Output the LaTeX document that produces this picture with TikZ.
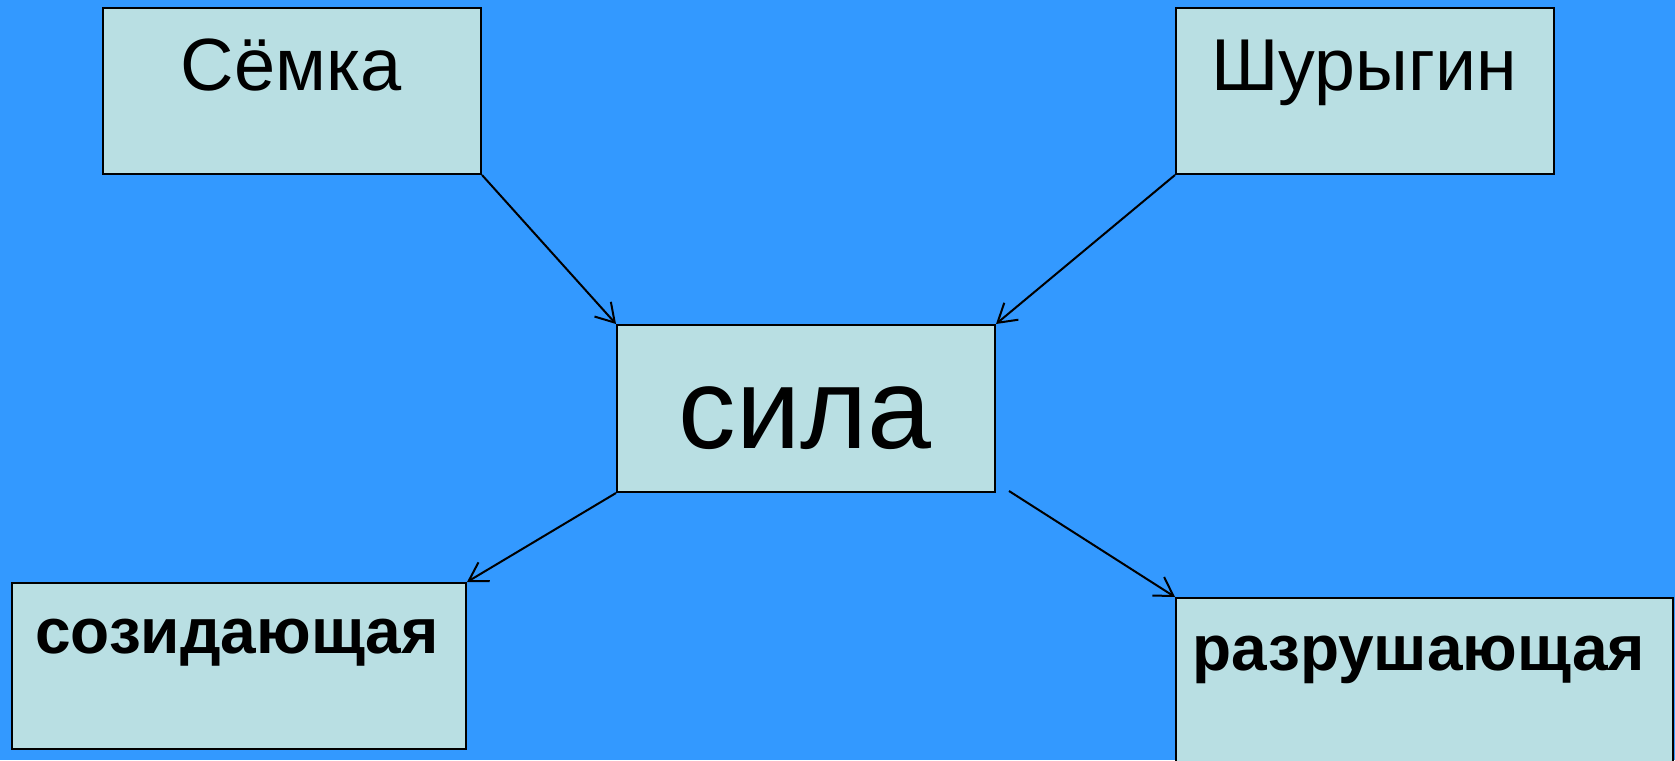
\documentclass[tikz,border=0pt]{standalone}
\usepackage{fontspec}
\setmainfont{Liberation Sans}
\usetikzlibrary{arrows.meta}
\definecolor{bgblue}{RGB}{51,153,255}
\definecolor{boxfill}{RGB}{185,223,227}
\tikzset{
  box/.style={draw=black, line width=2pt, fill=boxfill, anchor=north west, inner sep=0pt},
  lbl/.style={anchor=base, inner sep=0pt, text=black},
  conn/.style={line width=2pt, -{Straight Barb[length=18pt,width=22pt,line width=2pt]}}
}
\begin{document}
\begin{tikzpicture}[x=1pt,y=-1pt]
\useasboundingbox (0,0) rectangle (1675,760);
\clip (0,0) rectangle (1675,760);
\fill[bgblue] (0,0) rectangle (1675,760);
% boxes
\node[box, minimum width=378pt, minimum height=166pt] (semka) at (102,7) {};
\node[box, minimum width=378pt, minimum height=166pt] (shur) at (1175,7) {};
\node[box, minimum width=378pt, minimum height=167pt] (sila) at (616,324) {};
\node[box, minimum width=454pt, minimum height=166pt] (soz) at (11,582) {};
\node[box, minimum width=497pt, minimum height=175pt] (raz) at (1175,597) {};
% labels
\node[lbl, font=\fontsize{74}{80}\selectfont] (tsemka) at (291,90) {Сёмка};
\node[lbl, font=\fontsize{73.5}{80}\selectfont] (tshur) at (1364,90) {Шурыгин};
\node[lbl, font=\fontsize{115}{126}\selectfont] (tsila) at (805,448) {сила};
\node[lbl, font=\fontsize{64}{70}\bfseries\selectfont] (tsoz) at (237,653) {созидающая};
\node[lbl, font=\fontsize{64}{70}\bfseries\selectfont] (traz) at (1419,670) {разрушающая};
% connectors
\coordinate (rstart) at (1009,491);
\draw[conn] (semka.south east) -- (sila.north west);
\draw[conn] (shur.south west) -- (sila.north east);
\draw[conn] (sila.south west) -- (soz.north east);
\draw[conn] (rstart) -- (raz.north west);
\end{tikzpicture}
\end{document}
